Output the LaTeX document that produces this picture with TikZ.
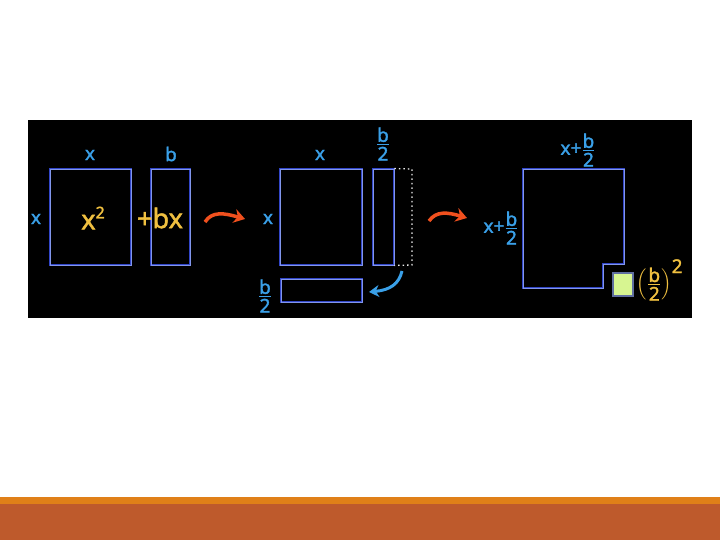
\documentclass[tikz,border=0pt]{standalone}
\usepackage{amsmath}
\usepackage{fontspec}
\setmainfont{Noto Sans}[AutoFakeBold=1.6]
\usetikzlibrary{arrows.meta}
\definecolor{lbl}{RGB}{58,160,232}
\definecolor{yel}{RGB}{240,192,64}
\definecolor{edgeb}{RGB}{50,70,200}
\definecolor{edgein}{RGB}{130,150,235}
\definecolor{orng}{RGB}{240,80,30}
\definecolor{stripe}{RGB}{224,128,24}
\definecolor{barc}{RGB}{190,90,44}
\definecolor{grn}{RGB}{215,245,145}
\definecolor{gedge}{RGB}{95,110,160}
\newcommand{\fr}[2]{\ensuremath{\genfrac{}{}{1.6pt}{}{\mbox{#1}}{\mbox{#2}}}}
\begin{document}
\begin{tikzpicture}[x=1pt,y=-1pt,
  box/.style={draw=edgeb, double=edgein, double distance=0.7pt, line width=0.9pt, inner sep=0pt, minimum width=#1},
  lab/.style={text=lbl, font=\fontsize{19}{19}\selectfont\bfseries, inner sep=0pt},
  ylab/.style={text=yel, font=\fontsize{27}{27}\selectfont\bfseries, inner sep=0pt},
  turnarrow/.style={draw=orng, line width=3.5pt, -{Stealth[length=11pt,width=14pt]}},
  swaparrow/.style={draw=lbl, line width=3pt, -{Stealth[length=10pt,width=12pt]}}]
\useasboundingbox (0,0) rectangle (720,540);
\fill[white] (0,0) rectangle (720,540);
\fill[black] (28,120) rectangle (692,318);
\fill[stripe] (0,497) rectangle (720,504);
\fill[barc] (0,504) rectangle (720,540);

% first group
\node[box=81pt, minimum height=96pt] (sqa) at (90.5,217) {};
\node[box=39pt, minimum height=96pt] (bxa) at (170.5,217) {};
\node[lab] (xta) at (90,155) {x};
\node[lab] (bta) at (171,154) {b};
\node[lab] (xla) at (36,219) {x};
\node[ylab] (x2) at (93,218) {x\raisebox{11pt}{\fontsize{16}{16}\selectfont 2}};
\node[ylab] (pbx) at (160,218) {+bx};

% first arrow
\coordinate (a1s) at (205,222);
\coordinate (a1e) at (245,219);
\draw[turnarrow] (a1s) .. controls (212,211) and (224,213) .. (a1e);

% second group
\node[box=82pt, minimum height=96pt] (sqb) at (321,217) {};
\node[box=21pt, minimum height=96pt] (thin) at (383.5,217) {};
\node[box=81pt, minimum height=23pt] (flat) at (321.5,290.5) {};
\draw[white!85!gray, line width=1.3pt, dash pattern=on 1.5pt off 3pt]
  (thin.north east) -- (412,169) -- (412,265) -- (thin.south east);
\node[lab] (xtb) at (320,155) {x};
\node[lab] (xlb) at (268,219) {x};
\node[lab] (ftb) at (383,144) {\fr{b}{2}};
\node[lab] (flb) at (265,296) {\fr{b}{2}};
\coordinate (bas) at (402,271);
\coordinate (bae) at (369,292);
\draw[swaparrow] (bas) .. controls (399,284) and (390,290) .. (bae);

% second arrow
\coordinate (a2s) at (429,221);
\coordinate (a2e) at (467,218);
\draw[turnarrow] (a2s) .. controls (436,211) and (447,212) .. (a2e);

% third group
\draw[draw=edgeb, double=edgein, double distance=0.7pt, line width=0.9pt]
  (523,169) -- (624,169) -- (624,264) -- (603,264) -- (603,288) -- (523,288) -- cycle;
\node[draw=gedge, line width=2pt, inner sep=0pt, minimum width=20pt, minimum height=23pt, fill=grn] (gsq) at (622.5,284) {};
\node[lab] (xtc) at (578,150) {x+\fr{b}{2}};
\node[lab] (xlc) at (501,228) {x+\fr{b}{2}};
\node[lab, text=yel] (bsq) at (660,280) {$\left(\fr{b}{2}\right)^{\mbox{2}}$};
\end{tikzpicture}
\end{document}
